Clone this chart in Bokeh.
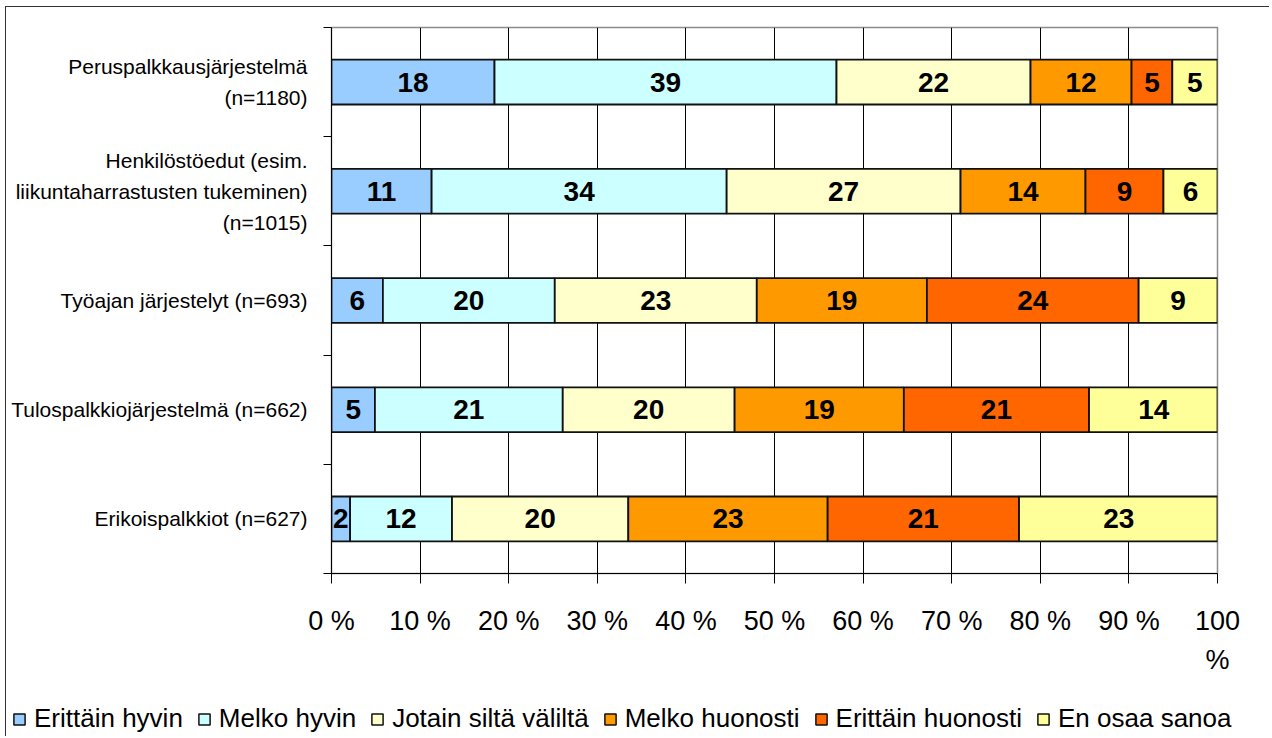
import numpy as np
from bokeh.plotting import figure
from bokeh.models import (ColumnDataSource, Range1d, FixedTicker, LabelSet,
                          Legend, LegendItem)
from bokeh.core.properties import value
from bokeh.embed import file_html
from bokeh.resources import INLINE

# ---------------- data ----------------
categories = [
    "Peruspalkkausjärjestelmä\n(n=1180)",
    "Henkilöstöedut (esim.\nliikuntaharrastusten tukeminen)\n(n=1015)",
    "Työajan järjestelyt (n=693)",
    "Tulospalkkiojärjestelmä (n=662)",
    "Erikoispalkkiot (n=627)",
]
series_names = ["Erittäin hyvin", "Melko hyvin", "Jotain siltä väliltä",
                "Melko huonosti", "Erittäin huonosti", "En osaa sanoa"]

# shares (%)
erittain_hyvin = [18.4, 11.3, 5.8, 4.9, 2.1]
melko_hyvin = [38.6, 33.3, 19.4, 21.2, 11.5]
jotain_silta_valilta = [21.9, 26.4, 22.8, 19.4, 19.9]
melko_huonosti = [11.4, 14.1, 19.2, 19.1, 22.5]
erittain_huonosti = [4.6, 8.8, 23.9, 20.9, 21.6]
en_osaa_sanoa = [5.1, 6.1, 8.9, 14.6, 22.5]

# printed labels
labels_erittain_hyvin = [18, 11, 6, 5, 2]
labels_melko_hyvin = [39, 34, 20, 21, 12]
labels_jotain = [22, 27, 23, 20, 20]
labels_melko_huonosti = [12, 14, 19, 19, 23]
labels_erittain_huonosti = [5, 9, 24, 21, 21]
labels_en_osaa = [5, 6, 9, 14, 23]

x_ticks = [0, 10, 20, 30, 40, 50, 60, 70, 80, 90, 100]
x_tick_labels = ["0 %", "10 %", "20 %", "30 %", "40 %", "50 %", "60 %",
                 "70 %", "80 %", "90 %", "100\n%"]

colors = ["#99CCFF", "#CCFFFF", "#FFFFCC", "#FF9900", "#FF6600", "#FFFF99"]

series = [erittain_hyvin, melko_hyvin, jotain_silta_valilta,
          melko_huonosti, erittain_huonosti, en_osaa_sanoa]
series_labels = [labels_erittain_hyvin, labels_melko_hyvin, labels_jotain,
                 labels_melko_huonosti, labels_erittain_huonosti, labels_en_osaa]

FONT = "Liberation Sans"

n = len(categories)
y_pos = [n - 1 - i + 0.5 for i in range(n)]

p = figure(width=1264, height=690, output_backend="svg", toolbar_location=None,
           x_range=Range1d(0, 100), y_range=Range1d(0, n),
           min_border_left=325, min_border_right=53,
           min_border_top=20, min_border_bottom=124)
p.background_fill_color = "white"
p.border_fill_color = "white"
p.outline_line_color = "#8C8C8C"
p.outline_line_width = 1.5
p.styles = {"margin-left": "5px", "margin-top": "6px",
            "border-left": "1px solid #333333",
            "border-top": "1px solid #333333"}

# ---------------- legend strip (separate root, no frame alignment) -------
pl = figure(width=1264, height=40, output_backend="svg", toolbar_location=None,
            x_range=Range1d(0, 1), y_range=Range1d(-20, -19),
            min_border_left=0, min_border_right=0, min_border_top=0,
            min_border_bottom=0)
pl.axis.visible = False
pl.grid.visible = False
pl.outline_line_color = None
pl.background_fill_color = "white"
pl.border_fill_color = "white"
pl.styles = {"margin-left": "5px", "border-left": "1px solid #333333"}

left = np.zeros(n)
items = []
for name, vals, labs, col in zip(series_names, series, series_labels, colors):
    right = left + np.array(vals, dtype=float)
    src = ColumnDataSource(dict(y=y_pos, left=left, right=right,
                                mid=(left + right) / 2,
                                lab=[str(v) for v in labs]))
    p.hbar(y="y", left="left", right="right", height=0.41, source=src,
           fill_color=col, line_color="#111111", line_width=1.8)
    p.add_layout(LabelSet(x="mid", y="y", text="lab", source=src,
                          text_align="center", text_baseline="middle",
                          text_font=value(FONT), text_font_style="bold",
                          text_font_size="28px", text_color="black"))
    # legend proxy renderer (same data, hidden; only its swatch is shown)
    rl = pl.hbar(y="y", left="left", right="right", height=0.41, source=src,
                 fill_color=col, line_color="#111111", line_width=1.5,
                 visible=False)
    items.append(LegendItem(label=name, renderers=[rl]))
    left = right

# x axis
p.xaxis.ticker = FixedTicker(ticks=x_ticks)
p.xaxis.major_label_overrides = {t: l for t, l in zip(x_ticks, x_tick_labels)}
p.xaxis.major_tick_out = 10
p.xaxis.major_tick_in = 0
p.xaxis.minor_tick_out = 0
p.xaxis.minor_tick_in = 0
p.xaxis.axis_line_color = "black"
p.xaxis.major_tick_line_color = "black"
p.xaxis.major_label_text_font = FONT
p.xaxis.major_label_text_font_size = "27px"
p.xaxis.major_label_text_color = "black"
p.xaxis.major_label_text_line_height = 1.3
p.xaxis.major_label_standoff = 22

# y axis
p.yaxis.ticker = FixedTicker(ticks=y_pos, minor_ticks=list(range(n + 1)))
p.yaxis.major_label_overrides = {y: c for y, c in zip(y_pos, categories)}
p.yaxis.major_tick_out = 0
p.yaxis.major_tick_in = 0
p.yaxis.minor_tick_out = 8
p.yaxis.minor_tick_in = 0
p.yaxis.minor_tick_line_color = "black"
p.yaxis.axis_line_color = "black"
p.yaxis.major_label_text_font = FONT
p.yaxis.major_label_text_font_size = "21px"
p.yaxis.major_label_text_color = "black"
p.yaxis.major_label_text_line_height = 1.35
p.yaxis.major_label_standoff = 16

# grid
p.ygrid.visible = False
p.xgrid.grid_line_color = "black"
p.xgrid.grid_line_width = 1
p.xgrid.bounds = (0, 95)

legend = Legend(items=items, orientation="horizontal",
                location=(6, 2),
                glyph_width=14, glyph_height=14, label_standoff=8, spacing=14,
                padding=4, margin=0, border_line_color=None,
                background_fill_alpha=0,
                inactive_fill_alpha=0,
                label_text_font=FONT, label_text_font_size="26px",
                label_text_color="black")
pl.add_layout(legend)

open("out.html", "w").write(file_html([p, pl], INLINE))
